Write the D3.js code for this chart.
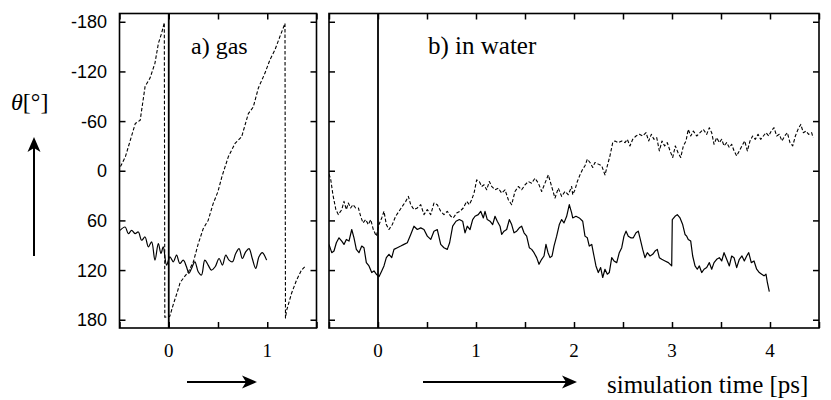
<!DOCTYPE html>
<html><head><meta charset="utf-8">
<script src="https://cdn.jsdelivr.net/npm/d3@7/dist/d3.min.js"></script>
<style>
body{margin:0;background:#fff}svg{display:block}
.serif{font-family:"Liberation Serif","DejaVu Serif","Times New Roman","Liberation Sans",serif}
.sans{font-family:"Liberation Sans","DejaVu Sans",Arial,sans-serif}
</style>
</head><body><svg id="c" width="831" height="400"></svg>
<script>
// ---------- data ----------
const yTickValues = [-180, -120, -60, 0, 60, 120, 180];
const yTickLabels = ["-180", "-120", "-60", "0", "60", "120", "180"];
const gasXLabels = [0, 1];
const waterXLabels = [0, 1, 2, 3, 4];
const markerTimes = [0];

// panel a) gas — dashed series (wrapping angle)
const gasDashedT = [-0.49,-0.44,-0.39,-0.34,-0.29,-0.24,-0.19,-0.14,-0.105,-0.073,-0.045,-0.04,0.01,0.03,0.05,0.083,0.116,0.16,0.2,0.25,0.3,0.35,0.4,0.45,0.5,0.54,0.605,0.673,0.74,0.808,0.858,0.91,0.977,1.027,1.078,1.128,1.18,1.185,1.196,1.247,1.298,1.348,1.38];
const gasDashedTheta = [-5,-17,-37,-57,-61,-102,-112,-130,-154,-166,-179,177,176,168,160,148,135,128,122,110,88,70,60,40,25,7,-17,-33,-41,-69,-77,-100,-118,-134,-146,-162,-178,178,169,148,132,120,116];

// panel a) gas — solid series
const gasSolidT = [-0.494,-0.443,-0.41,-0.377,-0.342,-0.309,-0.275,-0.241,-0.207,-0.174,-0.14,-0.106,-0.079,-0.056,-0.022,0.012,0.046,0.079,0.113,0.147,0.18,0.204,0.231,0.265,0.299,0.332,0.366,0.4,0.433,0.471,0.511,0.545,0.579,0.612,0.646,0.68,0.714,0.747,0.781,0.815,0.848,0.883,0.916,0.949,0.994];
const gasSolidTheta = [72,68,76,72,76,74,84,80,92,86,108,88,100,92,114,104,110,102,112,108,116,124,118,110,122,126,108,114,120,116,106,114,102,108,110,100,94,106,98,94,106,118,104,99,108];

// panel b) in water — dashed series
const waterDashedT = [-0.5,-0.483,-0.46,-0.43,-0.405,-0.37,-0.347,-0.323,-0.303,-0.279,-0.255,-0.228,-0.2,-0.177,-0.153,-0.126,-0.099,-0.074,-0.048,-0.017,0.01,0.038,0.061,0.085,0.112,0.146,0.18,0.214,0.248,0.283,0.31,0.334,0.367,0.401,0.436,0.469,0.503,0.538,0.571,0.605,0.64,0.673,0.707,0.742,0.768,0.803,0.837,0.87,0.905,0.932,0.956,0.98,1.007,1.034,1.058,1.082,1.109,1.136,1.16,1.194,1.228,1.262,1.296,1.33,1.364,1.398,1.432,1.466,1.5,1.534,1.568,1.602,1.636,1.67,1.704,1.738,1.772,1.806,1.84,1.874,1.908,1.942,1.976,1.987,2.01,2.034,2.061,2.089,2.112,2.136,2.163,2.191,2.214,2.248,2.283,2.316,2.34,2.367,2.395,2.418,2.452,2.487,2.52,2.544,2.571,2.599,2.633,2.667,2.701,2.735,2.762,2.789,2.816,2.844,2.871,2.898,2.925,2.952,2.98,3.007,3.034,3.061,3.089,3.116,3.143,3.166,3.191,3.218,3.252,3.286,3.319,3.354,3.381,3.405,3.429,3.456,3.483,3.507,3.531,3.558,3.585,3.609,3.633,3.66,3.687,3.714,3.742,3.769,3.796,3.823,3.85,3.878,3.905,3.932,3.959,3.987,4.013,4.041,4.068,4.095,4.122,4.15,4.177,4.204,4.232,4.259,4.286,4.314,4.34,4.367,4.395,4.425,4.44];
const waterDashedTheta = [4,10,29,47,53,47,37,47,39,45,41,45,45,55,63,59,65,59,71,79,65,57,49,65,71,65,55,49,43,37,31,41,47,45,41,53,47,53,39,41,49,53,49,55,57,51,49,45,37,41,35,27,11,13,19,17,23,13,19,23,21,27,23,35,41,25,19,23,17,13,15,9,15,25,15,5,19,33,21,31,25,29,19,29,23,13,5,-2,-6,-14,-10,-4,-10,-8,-6,5,-6,-18,-34,-36,-34,-36,-34,-38,-30,-38,-42,-44,-42,-46,-36,-44,-38,-40,-24,-36,-30,-34,-24,-16,-30,-22,-16,-30,-36,-50,-42,-48,-42,-46,-50,-44,-52,-46,-32,-40,-34,-38,-30,-34,-28,-32,-24,-18,-24,-30,-36,-24,-36,-42,-38,-44,-38,-42,-46,-42,-48,-52,-42,-44,-36,-42,-46,-34,-30,-42,-50,-56,-46,-48,-44,-46,-40];

// panel b) in water — solid series
const waterSolidT = [-0.5,-0.472,-0.449,-0.425,-0.398,-0.37,-0.347,-0.323,-0.296,-0.268,-0.245,-0.221,-0.194,-0.166,-0.143,-0.119,-0.092,-0.064,-0.041,-0.017,0.01,0.038,0.061,0.085,0.112,0.14,0.163,0.197,0.232,0.265,0.299,0.334,0.367,0.401,0.436,0.469,0.503,0.538,0.571,0.605,0.64,0.673,0.707,0.731,0.762,0.796,0.83,0.864,0.888,0.911,0.939,0.966,0.99,1.023,1.048,1.075,1.092,1.115,1.143,1.17,1.194,1.217,1.245,1.262,1.286,1.313,1.34,1.364,1.388,1.415,1.442,1.466,1.49,1.517,1.544,1.568,1.592,1.619,1.643,1.67,1.694,1.714,1.735,1.755,1.776,1.796,1.823,1.85,1.874,1.898,1.925,1.952,1.976,1.987,2.02,2.054,2.089,2.112,2.136,2.156,2.181,2.204,2.224,2.248,2.272,2.293,2.316,2.34,2.36,2.385,2.408,2.436,2.462,2.487,2.51,2.531,2.554,2.579,2.605,2.633,2.656,2.673,2.701,2.724,2.748,2.776,2.803,2.827,2.85,2.871,2.895,2.929,2.963,2.997,3.003,3.031,3.054,3.082,3.109,3.133,3.15,3.166,3.191,3.211,3.235,3.258,3.279,3.303,3.327,3.354,3.381,3.405,3.429,3.456,3.483,3.507,3.531,3.558,3.585,3.609,3.633,3.66,3.687,3.714,3.738,3.762,3.783,3.809,3.837,3.864,3.891,3.915,3.939,3.959,3.973,3.993];
const waterSolidTheta = [89,99,97,87,81,85,89,83,85,71,81,95,99,91,93,111,115,123,121,125,128,121,115,105,101,105,95,93,91,89,87,77,67,71,69,71,79,83,73,71,89,93,95,87,67,61,59,61,75,67,71,59,55,53,49,57,49,59,61,65,55,61,67,77,73,71,59,65,75,73,69,67,75,79,93,95,99,105,113,107,103,89,99,105,103,91,79,65,59,63,55,41,51,57,55,57,61,79,81,91,89,103,115,123,117,129,119,125,123,105,109,111,99,93,79,73,79,81,81,75,73,81,95,105,99,103,101,97,95,105,107,109,111,115,59,55,53,57,65,77,79,83,85,103,115,119,115,123,119,117,111,119,111,107,105,109,99,107,115,103,105,117,107,103,109,103,99,111,109,119,123,125,127,125,135,146];

// ---------- drawing ----------
const svg = d3.select("#c");
const yTop = 13.5, yBot = 328;
const y = d3.scaleLinear().domain([-190, 190]).range([yTop, yBot]);

function zip(ts, vs){ return ts.map((t,i)=>({t, v: vs[i]})); }

function panel(id, x0, x1, xDomain, xLabels, series){
  const x = d3.scaleLinear().domain(xDomain).range([x0, x1]);
  const g = svg.append("g");
  const clipId = "clip-" + id;
  svg.append("defs").append("clipPath").attr("id", clipId)
    .append("rect").attr("x", x0).attr("y", yTop).attr("width", x1-x0).attr("height", yBot-yTop);

  const xTickVals = d3.range(xDomain[0], xDomain[1] + 1e-9, 0.5);
  const tickStyle = sel => { sel.select(".domain").remove(); sel.selectAll("line").attr("stroke","#000").attr("stroke-width",1.5); sel.selectAll("text").remove(); };
  g.append("g").attr("transform",`translate(0,${yBot})`).call(d3.axisBottom(x).tickValues(xTickVals).tickSize(-6)).call(tickStyle);
  g.append("g").attr("transform",`translate(0,${yTop})`).call(d3.axisTop(x).tickValues(xTickVals).tickSize(-6)).call(tickStyle);
  g.append("g").attr("transform",`translate(${x0},0)`).call(d3.axisLeft(y).tickValues(yTickValues).tickSize(-6)).call(tickStyle);
  g.append("g").attr("transform",`translate(${x1},0)`).call(d3.axisRight(y).tickValues(yTickValues).tickSize(-6)).call(tickStyle);

  g.selectAll(".xl").data(xLabels).enter().append("text")
    .attr("class","serif")
    .attr("x", d => x(d)).attr("y", 357).attr("text-anchor","middle")
    .attr("font-size", 19).text(d => d);

  const dg = g.append("g").attr("clip-path", `url(#${clipId})`);
  dg.selectAll(".mk").data(markerTimes).enter().append("line")
    .attr("x1", d => x(d)).attr("x2", d => x(d)).attr("y1", yTop).attr("y2", yBot)
    .attr("stroke","#000").attr("stroke-width", 1.8);

  series.forEach(s => {
    const line = d3.line().x(d => x(d.t)).y(d => y(d.v)).curve(s.curve || d3.curveLinear);
    dg.append("path").datum(s.data).attr("d", line).attr("fill","none")
      .attr("stroke","#000").attr("stroke-width", s.dashed ? 1.1 : 1.2)
      .attr("stroke-dasharray", s.dashed ? "3.5,2" : null)
      .attr("stroke-linejoin","round");
  });

  g.append("rect").attr("x", x0).attr("y", yTop).attr("width", x1-x0).attr("height", yBot-yTop)
    .attr("fill","none").attr("stroke","#000").attr("stroke-width",1.6);
  return x;
}

panel("a", 119.5, 316.5, [-0.5, 1.5], gasXLabels, [
  {data: zip(gasDashedT, gasDashedTheta), dashed: true},
  {data: zip(gasSolidT, gasSolidTheta), dashed: false, curve: d3.curveCatmullRom.alpha(0.5)}
]);
panel("b", 329, 819, [-0.5, 4.5], waterXLabels, [
  {data: zip(waterDashedT, waterDashedTheta), dashed: true},
  {data: zip(waterSolidT, waterSolidTheta), dashed: false}
]);

svg.append("g").selectAll("text").data(yTickValues).enter().append("text")
  .attr("class","sans")
  .attr("x", 107).attr("y", d => y(d)).attr("dy","0.36em").attr("text-anchor","end")
  .attr("font-size", 18).text((d,i) => yTickLabels[i]);

svg.append("text").attr("class","serif").attr("x", 191).attr("y", 54).attr("font-size", 24).text("a) gas");
svg.append("text").attr("class","serif").attr("x", 428).attr("y", 54).attr("font-size", 25).text("b) in water");

const yl = svg.append("text").attr("class","serif").attr("x", 11).attr("y", 110).attr("font-size", 24);
yl.append("tspan").attr("font-style","italic").text("θ");
yl.append("tspan").text("[°]");

svg.append("text").attr("class","serif").attr("x", 607).attr("y", 393).attr("font-size", 25).text("simulation time [ps]");

function arrow(x1, y1, x2, y2){
  const ang = Math.atan2(y2-y1, x2-x1), L = 15, W = 6.5, N = 11;
  const ux = Math.cos(ang), uy = Math.sin(ang), px = -uy, py = ux;
  svg.append("line").attr("x1",x1).attr("y1",y1).attr("x2",x2-ux*N).attr("y2",y2-uy*N)
    .attr("stroke","#000").attr("stroke-width",2);
  const pts = [[x2,y2],[x2-ux*L+px*W, y2-uy*L+py*W],[x2-ux*N, y2-uy*N],[x2-ux*L-px*W, y2-uy*L-py*W]];
  svg.append("path").attr("d", "M" + pts.map(p=>p.join(",")).join("L") + "Z").attr("fill","#000");
}
arrow(34, 256, 34, 137);
arrow(187, 382, 257, 382);
arrow(423, 382, 577, 382);
</script>
</body></html>
